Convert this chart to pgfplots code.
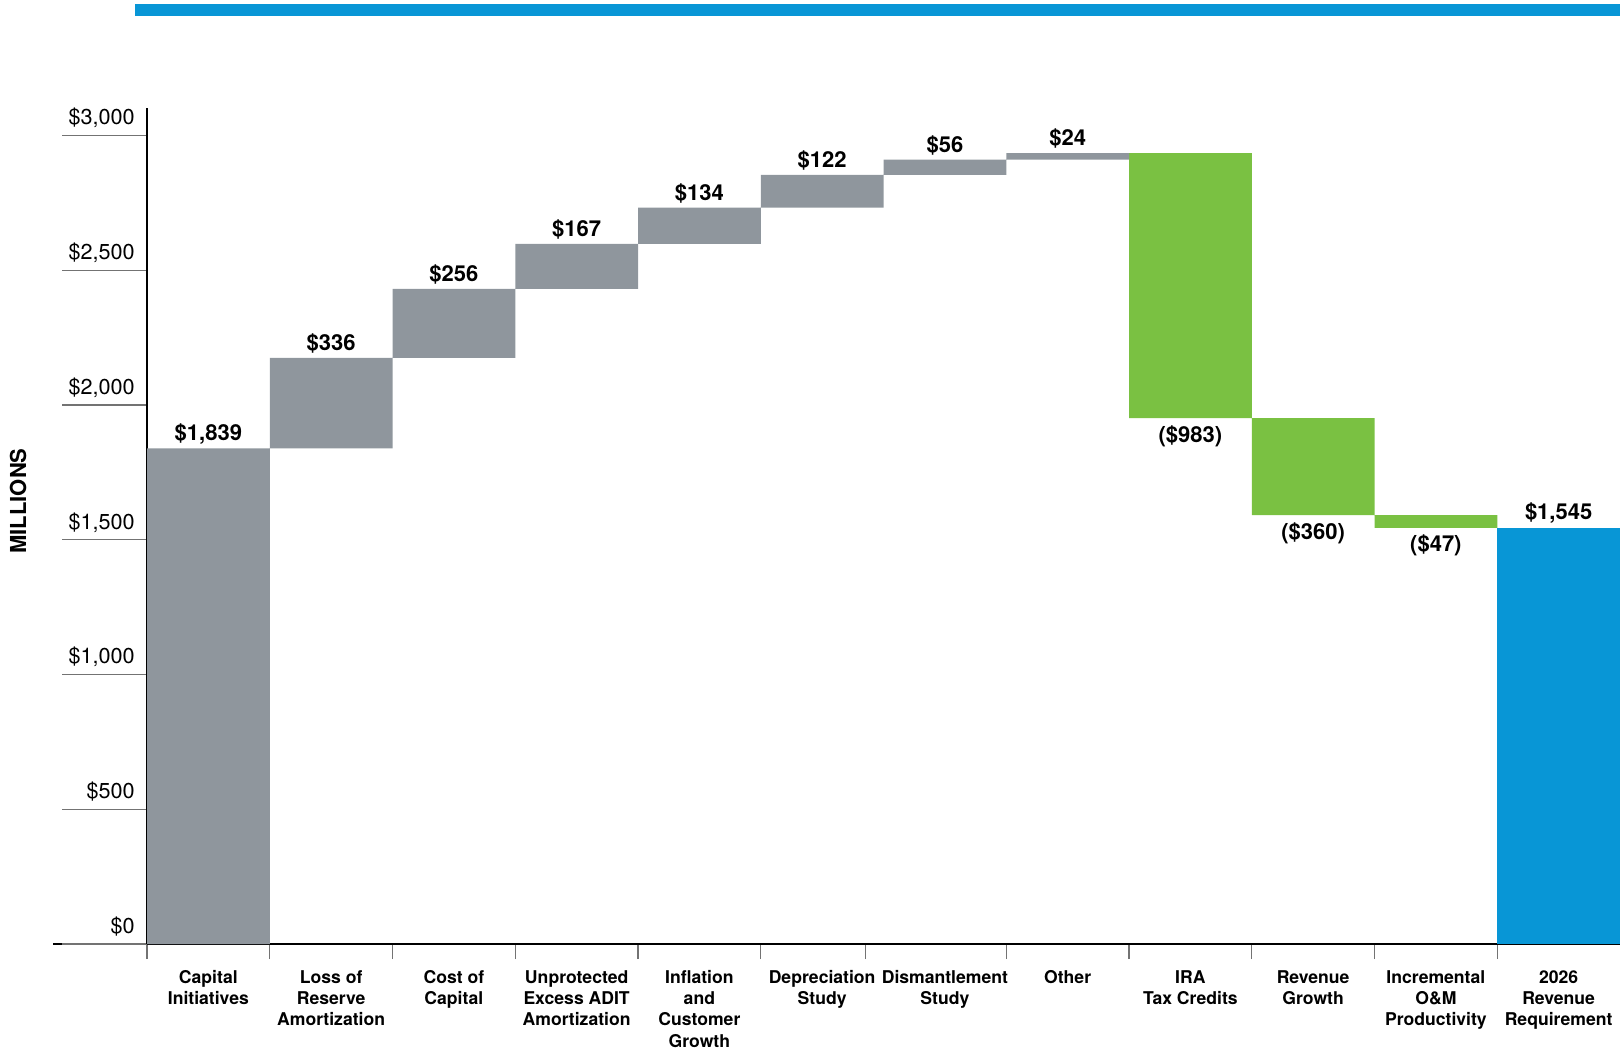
\documentclass[border=0pt]{standalone}
\usepackage{fontspec}
\setmainfont{TeX Gyre Heros}
\usepackage{pgfplots}
\pgfplotsset{compat=1.18}
\definecolor{wfgray}{RGB}{143,150,157}
\definecolor{wfgreen}{RGB}{122,193,66}
\definecolor{wfblue}{RGB}{8,150,214}
\definecolor{tickgray}{RGB}{115,115,115}
\tikzset{vl/.style={font=\bfseries\fontsize{11}{13}\selectfont, anchor=base}}
\begin{document}
\begin{tikzpicture}[x=1pt,y=1pt]
\useasboundingbox (0,0) rectangle (810,527);
\fill[wfblue] (67.5,519) rectangle (810,525);
\node[rotate=90, font=\bfseries\fontsize{11}{13}\selectfont] at (9,276.5) {MILLIONS};
\draw[black, line width=1.1pt] (26.5,55) -- (74,55);
% categories, separators
\begin{axis}[
  at={(73.5pt,55pt)}, anchor=south west,
  scale only axis, width=736.5pt, height=417.75pt,
  xmin=-0.5, xmax=11.5, ymin=0, ymax=3100,
  axis x line*=bottom, axis y line=none,
  axis line style={black, line width=1.1pt, -},
  xtick={0,...,11},
  xticklabels={{Capital\\Initiatives},{Loss of\\Reserve\\Amortization},{Cost of\\Capital},{Unprotected\\Excess ADIT\\Amortization},{Inflation\\and\\Customer\\Growth},{Depreciation\\Study},{Dismantlement\\Study},{Other},{IRA\\Tax Credits},{Revenue\\Growth},{Incremental\\O\&M\\Productivity},{2026\\Revenue\\Requirement}},
  major tick length=0pt,
  minor xtick={-0.5,0.5,1.5,2.5,3.5,4.5,5.35,6.5,7.5,8.5,9.5,10.5},
  minor tick length=7.5pt, tick align=outside,
  xtick style={tickgray, line width=0.6pt},
  xticklabel style={inner sep=0pt, anchor=north, align=center, yshift=-13pt, font=\bfseries\fontsize{8.8}{10.6}\selectfont},
]
\end{axis}
\begin{axis}[
  at={(73.5pt,55pt)}, anchor=south west,
  scale only axis, width=736.5pt, height=417.75pt,
  xmin=-0.5, xmax=11.5, ymin=0, ymax=3100,
  axis x line*=bottom, axis y line*=left,
  axis line style={black, line width=1.1pt, -},
  clip=false,
  ybar stacked, bar width=1,
  xtick=\empty,
  ytick={0,500,...,3000},
  yticklabels={{\$0},{\$500},{\$1,000},{\$1,500},{\$2,000},{\$2,500},{\$3,000}},
  major tick length=42.5pt, tick align=outside,
  ytick style={tickgray, line width=0.6pt},
  yticklabel style={inner sep=0pt, anchor=base east, xshift=36.5pt, yshift=5.3pt, font=\fontsize{10.8}{13}\selectfont},
]
\addplot[draw=none, fill=none] coordinates {(0,0) (1,1839) (2,2175) (3,2431) (4,2598) (5,2732) (6,2854) (7,2910) (8,1951) (9,1591) (10,1544) (11,0)};
\addplot[draw=none, fill=wfgray] coordinates {(0,1839) (1,336) (2,256) (3,167) (4,134) (5,122) (6,56) (7,24) (8,0) (9,0) (10,0) (11,0)};
\addplot[draw=none, fill=wfgreen] coordinates {(0,0) (1,0) (2,0) (3,0) (4,0) (5,0) (6,0) (7,0) (8,983) (9,360) (10,47) (11,0)};
\addplot[draw=none, fill=wfblue] coordinates {(0,0) (1,0) (2,0) (3,0) (4,0) (5,0) (6,0) (7,0) (8,0) (9,0) (10,0) (11,1545)};
\node[vl, yshift=3.8pt] at (axis cs:0,1839) {\$1,839};
\node[vl, yshift=3.8pt] at (axis cs:1,2175) {\$336};
\node[vl, yshift=3.8pt] at (axis cs:2,2431) {\$256};
\node[vl, yshift=3.8pt] at (axis cs:3,2598) {\$167};
\node[vl, yshift=3.8pt] at (axis cs:4,2732) {\$134};
\node[vl, yshift=3.8pt] at (axis cs:5,2854) {\$122};
\node[vl, yshift=3.8pt] at (axis cs:6,2910) {\$56};
\node[vl, yshift=3.8pt] at (axis cs:7,2934) {\$24};
\node[vl, yshift=-12pt] at (axis cs:8,1951) {(\$983)};
\node[vl, yshift=-12pt] at (axis cs:9,1591) {(\$360)};
\node[vl, yshift=-12pt] at (axis cs:10,1544) {(\$47)};
\node[vl, yshift=3.8pt] at (axis cs:11,1545) {\$1,545};
\end{axis}
\end{tikzpicture}
\end{document}
